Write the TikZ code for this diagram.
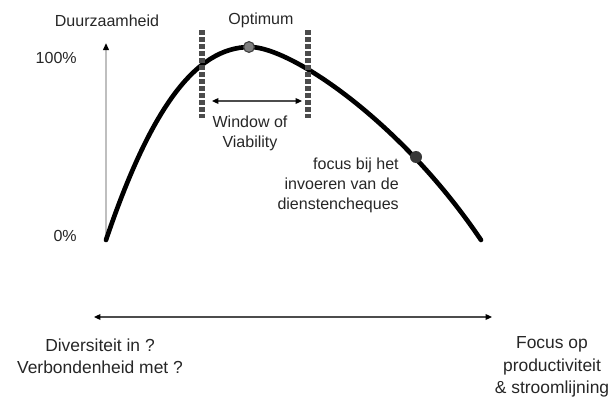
\documentclass[tikz,border=0pt]{standalone}
\usepackage{fontspec}
\setmainfont{Liberation Sans}
\usetikzlibrary{arrows.meta}

\begin{document}
\begin{tikzpicture}[x=0.025cm, y=-0.025cm, >=Stealth,
          lbl/.style={font=\fontsize{11.4}{14.2}\selectfont, text=black!85, inner sep=0pt, align=center},
          biglbl/.style={font=\fontsize{12.4}{15.8}\selectfont, text=black!85, inner sep=0pt, align=center},
          venster/.style={draw=black!70, line width=4.2pt, dash pattern=on 3.4pt off 1.6pt},
          punt/.style={circle, inner sep=0pt, minimum size=0.27cm},
          pijl/.style={draw=black!70, line width=0.9pt, {Triangle[length=4.5pt,width=4pt,color=black]}-{Triangle[length=4.5pt,width=4pt,color=black]}}
        ]
        \useasboundingbox (0,0) rectangle (614,401);

        % as
        \coordinate (ybot) at (106,238);
        \coordinate (ytop) at (106,43);
        \draw[black!25, line width=1.6pt, -{Triangle[length=5pt,width=4pt,color=black]}] (ybot) -- (ytop);
        \node[lbl] (yas)  at (107,21)  {Duurzaamheid};
        \node[lbl, anchor=east] (p100) at (77,58)  {100\%};
        \node[lbl, anchor=east] (p0)   at (77,236) {0\%};

        % curve
        \coordinate (cstart) at (106,240);
        \coordinate (ctop)   at (250,47);
        \coordinate (cend)   at (481,240);
        \draw[line width=3.3pt, line cap=round] (cstart) .. controls (150,110) and (195,47) .. (ctop)
          .. controls (290,47) and (400,120) .. (cend);

        % window of viability
        \coordinate (wl1) at (202,30);
        \coordinate (wl2) at (202,118);
        \coordinate (wr1) at (308,30);
        \coordinate (wr2) at (308,118);
        \draw[venster] (wl1) -- (wl2);
        \draw[venster] (wr1) -- (wr2);
        \coordinate (wa) at (212,101);
        \coordinate (wb) at (302,101);
        \draw[pijl] (wa) -- (wb);
        \node[lbl] (wov) at (250,133) {Window of\\Viability};

        % optimum
        \node[punt, fill=black!50, draw=black!75, thick] (opt) at (249,47) {};
        \node[lbl] (optlbl) at (261,20) {Optimum};

        % focus dienstencheques
        \node[punt, fill=black!78, minimum size=0.3cm] (dc) at (416,157) {};
        \node[lbl, anchor=east, align=right] (dclbl) at (399,185) {focus bij het\\invoeren van de\\dienstencheques};

        % onderste as
        \coordinate (xl) at (94,317);
        \coordinate (xr) at (492,317);
        \draw[pijl] (xl) -- (xr);
        \node[biglbl] (links)  at (100,356) {Diversiteit in ?\\Verbondenheid met ?};
        \node[biglbl] (rechts) at (552,367) {Focus op\\productiviteit\\\& stroomlijning};
      \end{tikzpicture}
\end{document}
